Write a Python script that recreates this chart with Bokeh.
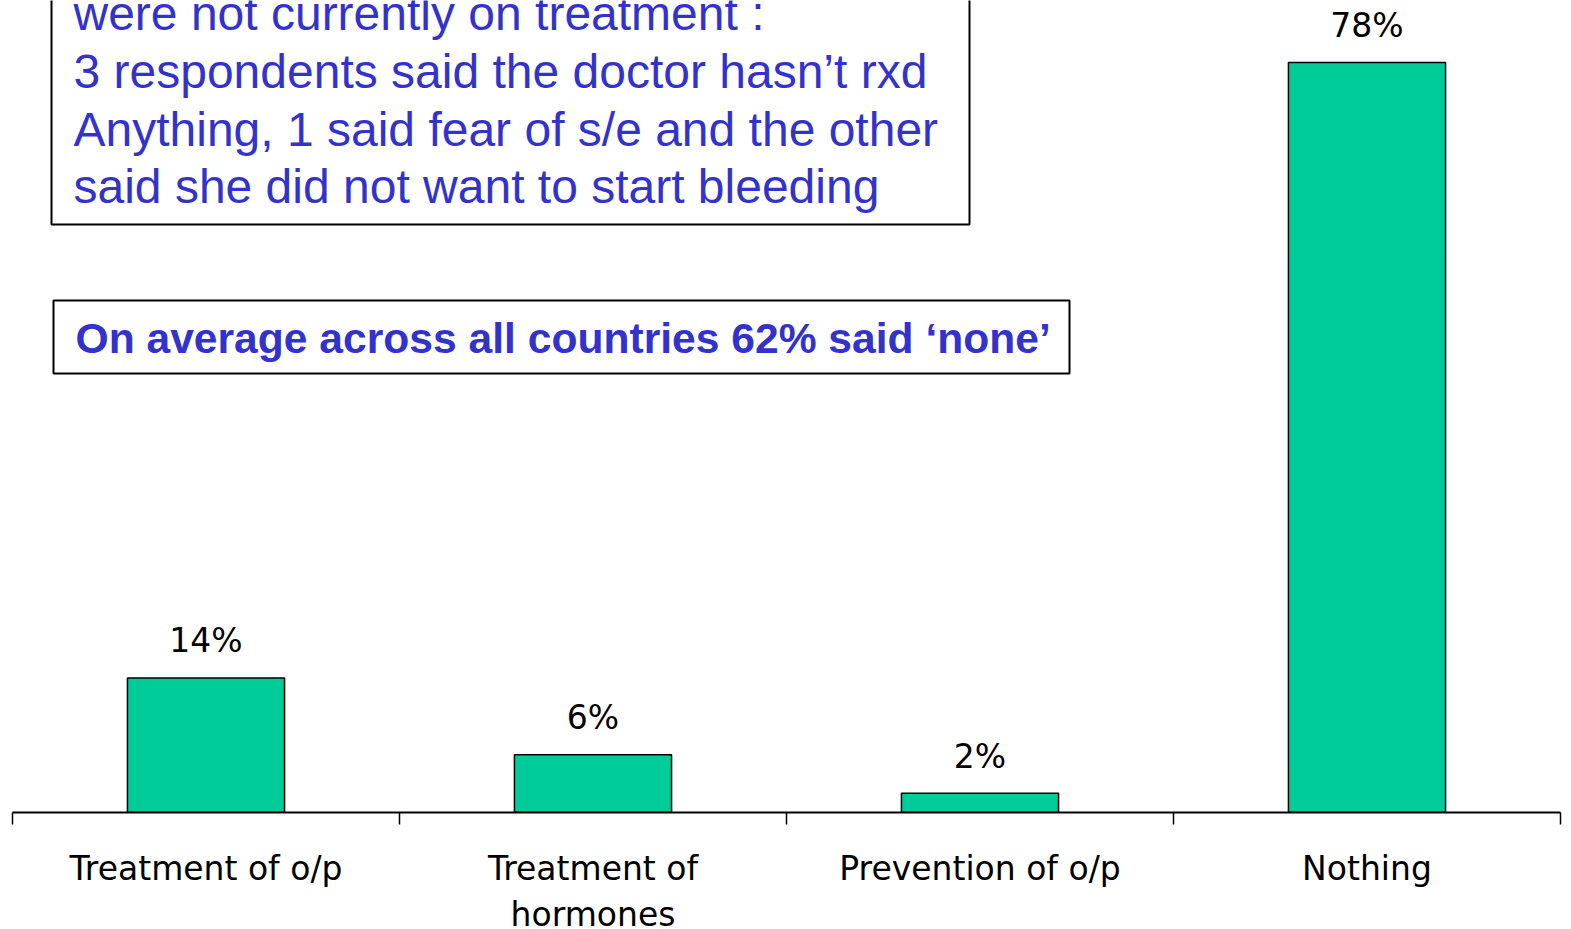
from bokeh.plotting import figure
from bokeh.models import Range1d, FixedTicker, LinearAxis, BoxAnnotation, Label, ColumnDataSource
from bokeh.core.properties import value
from bokeh.embed import file_html
from bokeh.resources import INLINE

# ---- data ----
categories = ["Treatment of o/p", "Treatment of\nhormones", "Prevention of o/p", "Nothing"]
percent = [14, 6, 2, 78]
value_labels = [f"{v}%" for v in percent]

note_lines = [
    "were not currently on treatment :",
    "3 respondents said the doctor hasn\u2019t rxd",
    "Anything, 1 said fear of s/e and the other",
    "said she did not want to start bleeding",
]
summary_text = "On average across all countries 62% said \u2018none\u2019"

# ---- layout helpers (pixel -> data) ----
PX_X = 387.0       # px per category
PX_Y = 9.615       # px per percent
AXIS_Y = 812       # canvas y of axis
LEFT_X = 12        # canvas x of frame left


def dx(px):
    return (px - LEFT_X) / PX_X


def dy(py):
    return (AXIS_Y - py) / PX_Y


n = len(categories)
centers = [i + 0.5 for i in range(n)]
bounds = [float(i) for i in range(n + 1)]

BLUE = "#3333CC"
GREEN = "#00CC99"

p = figure(
    frame_width=1548, frame_height=AXIS_Y,
    x_range=Range1d(0, n), y_range=Range1d(0, dy(0)),
    x_axis_location=None, y_axis_location=None,
    output_backend="svg", toolbar_location=None,
    min_border_left=LEFT_X, min_border_right=8, min_border_top=0, min_border_bottom=116,
)
p.outline_line_color = None
p.grid.visible = False
p.background_fill_color = "white"
p.border_fill_color = "white"

src = ColumnDataSource(dict(x=centers, top=percent, label=value_labels))
p.vbar(x="x", top="top", bottom=0, width=0.406, source=src,
       fill_color=GREEN, line_color="black", line_width=1.5)
p.text(x="x", y="top", text="label", source=src, text_align="center",
       text_baseline="alphabetic", y_offset=-37,
       text_font=value("DejaVu Sans"), text_font_size="33px", text_color="black")

xaxis = LinearAxis(
    ticker=FixedTicker(ticks=centers, minor_ticks=bounds),
    major_label_overrides={c: lab for c, lab in zip(centers, categories)},
    axis_line_color="black", axis_line_width=2,
    major_tick_out=0, major_tick_in=0,
    minor_tick_out=12, minor_tick_in=0, minor_tick_line_width=1.5,
    minor_tick_line_color="black",
    major_label_text_font="DejaVu Sans", major_label_text_font_size="33px",
    major_label_text_color="black", major_label_standoff=24,
)
p.add_layout(xaxis, "below")

# note box 1 (top extends beyond the page)
p.add_layout(BoxAnnotation(left=dx(51), right=dx(969), bottom=dy(224), top=dy(-40),
                           fill_color="white", fill_alpha=1.0,
                           line_color="black", line_alpha=1.0, line_width=2))
for line, base in zip(note_lines, [30, 88, 146, 203]):
    p.add_layout(Label(x=dx(73), y=dy(base - 17), text=line, text_font="Liberation Sans",
                       text_font_size="48px", text_color=BLUE,
                       text_baseline="alphabetic", text_align="left"))

# note box 2
p.add_layout(BoxAnnotation(left=dx(53), right=dx(1069), bottom=dy(373), top=dy(300),
                           fill_color="white", fill_alpha=1.0,
                           line_color="black", line_alpha=1.0, line_width=2))
p.add_layout(Label(x=dx(75), y=dy(353 - 16), text=summary_text, text_font="Liberation Sans",
                   text_font_size="42.6px", text_font_style="bold", text_color=BLUE,
                   text_baseline="alphabetic", text_align="left"))

open("out.html", "w").write(file_html(p, INLINE))
